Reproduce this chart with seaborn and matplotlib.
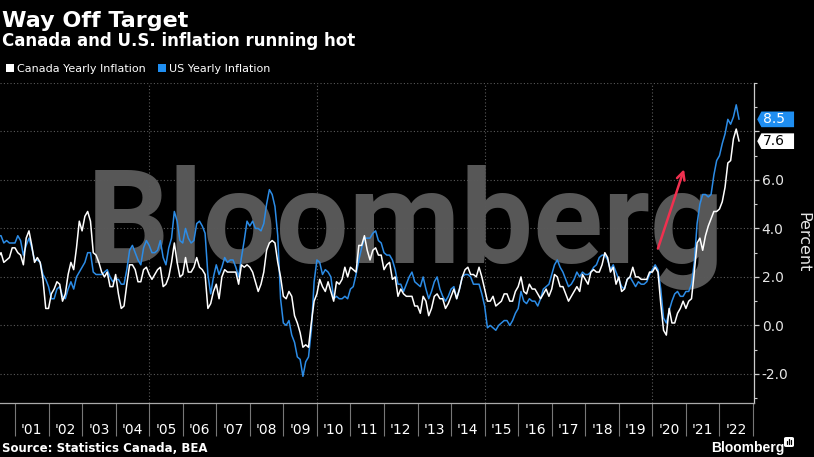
import numpy as np
import pandas as pd
import matplotlib.pyplot as plt
import seaborn as sns
from matplotlib.path import Path
from matplotlib.patches import Patch, FancyBboxPatch

# monthly yoy CPI, Jan 2000 .. Jul 2022
canada_yoy = [
    2.2, 2.7, 3.0, 2.2, 2.4, 2.8, 3.0, 2.6, 2.7, 2.8, 3.2, 3.2,
    3.0, 2.9, 2.5, 3.6, 3.9, 3.3, 2.6, 2.8, 2.6, 1.9, 0.7, 0.7,
    1.3, 1.5, 1.8, 1.7, 1.0, 1.3, 2.1, 2.6, 2.3, 3.2, 4.3, 3.9,
    4.5, 4.7, 4.3, 3.0, 2.9, 2.6, 2.2, 2.0, 2.2, 1.6, 1.6, 2.1,
    1.3, 0.7, 0.8, 1.7, 2.5, 2.5, 2.3, 1.8, 1.8, 2.3, 2.4, 2.1,
    1.9, 2.1, 2.3, 2.4, 1.6, 1.7, 2.0, 2.6, 3.4, 2.6, 2.0, 2.1,
    2.8, 2.2, 2.2, 2.4, 2.8, 2.4, 2.3, 2.1, 0.7, 0.9, 1.4, 1.7,
    1.1, 2.0, 2.3, 2.2, 2.2, 2.2, 2.2, 1.7, 2.5, 2.4, 2.5, 2.4,
    2.2, 1.8, 1.4, 1.7, 2.2, 3.1, 3.4, 3.5, 3.4, 2.6, 2.0, 1.2,
    1.1, 1.4, 1.2, 0.4, 0.1, -0.3, -0.9, -0.8, -0.9, 0.1, 1.0, 1.3,
    1.9, 1.6, 1.4, 1.8, 1.4, 1.0, 1.8, 1.7, 1.9, 2.4, 2.0, 2.4,
    2.3, 2.2, 3.3, 3.3, 3.7, 3.1, 2.7, 3.1, 3.2, 2.9, 2.9, 2.3,
    2.5, 2.6, 1.9, 2.0, 1.2, 1.5, 1.3, 1.2, 1.2, 1.2, 0.8, 0.8,
    0.5, 1.2, 1.0, 0.4, 0.7, 1.2, 1.3, 1.1, 1.1, 0.7, 0.9, 1.2,
    1.5, 1.1, 1.5, 2.0, 2.3, 2.4, 2.1, 2.1, 2.0, 2.4, 2.0, 1.5,
    1.0, 1.0, 1.2, 0.8, 0.9, 1.0, 1.3, 1.3, 1.0, 1.0, 1.4, 1.6,
    2.0, 1.4, 1.3, 1.7, 1.5, 1.5, 1.3, 1.1, 1.3, 1.5, 1.2, 1.5,
    2.1, 2.0, 1.6, 1.6, 1.3, 1.0, 1.2, 1.4, 1.6, 1.4, 2.1, 1.9,
    1.7, 2.2, 2.3, 2.2, 2.2, 2.5, 3.0, 2.8, 2.2, 2.4, 1.7, 2.0,
    1.4, 1.5, 1.9, 2.0, 2.4, 2.0, 2.0, 1.9, 1.9, 1.9, 2.2, 2.2,
    2.4, 2.2, 0.9, -0.2, -0.4, 0.7, 0.1, 0.1, 0.5, 0.7, 1.0, 0.7,
    1.0, 1.1, 2.2, 3.4, 3.6, 3.1, 3.7, 4.1, 4.4, 4.7, 4.7, 4.8,
    5.1, 5.7, 6.7, 6.8, 7.7, 8.1, 7.6,
]
us_yoy = [
    2.7, 3.2, 3.8, 3.1, 3.2, 3.7, 3.7, 3.4, 3.5, 3.4, 3.4, 3.4,
    3.7, 3.5, 2.9, 3.3, 3.6, 3.2, 2.7, 2.7, 2.6, 2.1, 1.9, 1.6,
    1.1, 1.1, 1.5, 1.6, 1.2, 1.1, 1.5, 1.8, 1.5, 2.0, 2.2, 2.4,
    2.6, 3.0, 3.0, 2.2, 2.1, 2.1, 2.1, 2.2, 2.3, 2.0, 1.8, 1.9,
    1.9, 1.7, 1.7, 2.3, 3.1, 3.3, 3.0, 2.7, 2.5, 3.2, 3.5, 3.3,
    3.0, 3.0, 3.1, 3.5, 2.8, 2.5, 3.2, 3.6, 4.7, 4.3, 3.5, 3.4,
    4.0, 3.6, 3.4, 3.5, 4.2, 4.3, 4.1, 3.8, 2.1, 1.3, 2.0, 2.5,
    2.1, 2.4, 2.8, 2.6, 2.7, 2.7, 2.4, 2.0, 2.8, 3.5, 4.3, 4.1,
    4.3, 4.0, 4.0, 3.9, 4.2, 5.0, 5.6, 5.4, 4.9, 3.7, 1.1, 0.1,
    0.0, 0.2, -0.4, -0.7, -1.3, -1.4, -2.1, -1.5, -1.3, -0.2, 1.8, 2.7,
    2.6, 2.1, 2.3, 2.2, 2.0, 1.1, 1.2, 1.1, 1.1, 1.2, 1.1, 1.5,
    1.6, 2.1, 2.7, 3.2, 3.6, 3.6, 3.6, 3.8, 3.9, 3.5, 3.4, 3.0,
    2.9, 2.9, 2.7, 2.3, 1.7, 1.7, 1.4, 1.7, 2.0, 2.2, 1.8, 1.7,
    1.6, 2.0, 1.5, 1.1, 1.4, 1.8, 2.0, 1.5, 1.2, 1.0, 1.2, 1.5,
    1.6, 1.1, 1.5, 2.0, 2.1, 2.1, 2.0, 1.7, 1.7, 1.7, 1.3, 0.8,
    -0.1, 0.0, -0.1, -0.2, 0.0, 0.1, 0.2, 0.2, 0.0, 0.2, 0.5, 0.7,
    1.4, 1.0, 0.9, 1.1, 1.0, 1.0, 0.8, 1.1, 1.5, 1.6, 1.7, 2.1,
    2.5, 2.7, 2.4, 2.2, 1.9, 1.6, 1.7, 1.9, 2.2, 2.0, 2.2, 2.1,
    2.1, 2.2, 2.4, 2.5, 2.8, 2.9, 2.9, 2.7, 2.3, 2.5, 2.2, 1.9,
    1.6, 1.5, 1.9, 2.0, 1.8, 1.6, 1.8, 1.7, 1.7, 1.8, 2.1, 2.3,
    2.5, 2.3, 1.5, 0.3, 0.1, 0.6, 1.0, 1.3, 1.4, 1.2, 1.2, 1.4,
    1.4, 1.7, 2.6, 4.2, 5.0, 5.4, 5.4, 5.3, 5.4, 6.2, 6.8, 7.0,
    7.5, 7.9, 8.5, 8.3, 8.6, 9.1, 8.5,
]
series_names = ['Canada Yearly Inflation', 'US Yearly Inflation']
year_labels = ["'%02d" % (y % 100) for y in range(2001, 2023)]
y_ticks = [-2, 0, 2, 4, 6, 8]
last_values = {'US Yearly Inflation': 8.5, 'Canada Yearly Inflation': 7.6}
arrow_start = (2020.14, 3.06)
arrow_end = (2020.97, 6.55)

BLUE = '#2c8ce6'
BOX_BLUE = '#1f8ef1'
RED = '#f0304f'
GRID = '#5a5a5a'

# month-end positions on a decimal-year axis
dates = 2000 + (np.arange(len(us_yoy)) + 1) / 12.0
df = pd.DataFrame({
    'date': np.concatenate([dates, dates]),
    'value': us_yoy + canada_yoy,
    'series': [series_names[1]] * len(us_yoy) + [series_names[0]] * len(canada_yoy),
})

sns.set_style('dark', {'axes.facecolor': 'black', 'figure.facecolor': 'black'})
plt.rcParams['font.family'] = ['DejaVu Sans']
plt.rcParams['axes.unicode_minus'] = False

fig = plt.figure(figsize=(8.14, 4.57), dpi=100)
ax = fig.add_axes([0, 0.1182, 0.9263, 0.7002])
ax.set_facecolor('black')

# watermark
ax.text(0.538, 0.4375, 'Bloomberg', transform=ax.transAxes, ha='center', va='baseline',
        fontsize=93, fontweight='bold', family='Roboto', color='#575757', zorder=0.3)

sns.lineplot(data=df, x='date', y='value', hue='series',
             hue_order=[series_names[1], series_names[0]],
             palette={series_names[0]: 'white', series_names[1]: BLUE},
             linewidth=1.1, legend=False, ax=ax, zorder=3)

ax.set_xlim(2000.553, 2023.03)
ax.set_ylim(-3.2, 10)

for yv in y_ticks + [10]:
    ax.axhline(yv, color=GRID, linestyle=(0, (1, 2)), linewidth=0.8, zorder=0.6)
for xv in [2005, 2010, 2015, 2020]:
    ax.axvline(xv, color=GRID, linestyle=(0, (1, 2)), linewidth=0.8, zorder=0.6)
ax.grid(False)

# x axis: separators at year boundaries, labels in the middle
ax.set_xticks(range(2001, 2024))
ax.set_xticklabels([])
ax.set_xticks([y + 0.5 for y in range(2001, 2023)], minor=True)
ax.set_xticklabels(year_labels, minor=True)
ax.tick_params(axis='x', which='major', bottom=True, length=24, width=0.8, color='#777777', direction='out')
ax.tick_params(axis='x', which='minor', bottom=True, length=0, pad=14.5, labelsize=10, labelcolor='white')

# y axis on the right; the 8.0 label sits under the value tags
ax.yaxis.tick_right()
ax.set_yticks(y_ticks)
ax.set_yticklabels(['%.1f' % v if v != 8 else '' for v in y_ticks])
ax.set_yticks(np.arange(-3, 11, 1), minor=True)
ax.tick_params(axis='y', which='major', right=True, left=False, length=3.5, width=0.9,
               color='#cccccc', direction='out', pad=2, labelsize=10, labelcolor='#e6e6e6')
ax.tick_params(axis='y', which='minor', right=True, left=False, length=2, width=0.8,
               color='#cccccc', direction='out')
ax.set_xlabel('')
ax.set_ylabel('')

for side in ['left', 'top']:
    ax.spines[side].set_visible(False)
ax.spines['right'].set_color('#cccccc')
ax.spines['right'].set_linewidth(0.9)
ax.spines['bottom'].set_color('#aaaaaa')
ax.spines['bottom'].set_linewidth(0.9)

fig.text(803 / 814, 1 - 242.5 / 457, 'Percent', rotation=270, ha='center', va='center',
         fontsize=11.5, color='#e6e6e6')


# last value tags
def tag_box(x0, y0, width, height, mutation_size):
    left = x0 - 0.12 * mutation_size
    right = x0 + width + 0.65 * mutation_size
    bottom = y0 - 0.06 * mutation_size
    top = y0 + height + 0.06 * mutation_size
    tip = left - 0.3 * mutation_size
    return Path([(left, bottom), (right, bottom), (right, top), (left, top),
                 (tip, (bottom + top) / 2), (left, bottom)], closed=True)


for name, fc, tc in [(series_names[1], BOX_BLUE, 'white'), (series_names[0], 'white', 'black')]:
    v = last_values[name]
    ax.annotate('%.1f' % v, xy=(1, v), xycoords=('axes fraction', 'data'),
                xytext=(6.5, 0), textcoords='offset points', ha='left', va='center',
                fontsize=10, color=tc, annotation_clip=False, zorder=10,
                bbox=dict(boxstyle=tag_box, fc=fc, ec='none'))

ax.annotate('', xy=arrow_end, xytext=arrow_start,
            arrowprops=dict(arrowstyle='->', color=RED, lw=1.8, mutation_scale=14), zorder=5)

# titles, legend, footer
fig.text(0.003, 1 - 27 / 457, 'Way Off Target', va='baseline', ha='left',
         fontsize=16, fontweight='bold', color='white')
fig.text(0.003, 1 - 46 / 457, 'Canada and U.S. inflation running hot', va='baseline', ha='left',
         fontsize=12, fontweight='bold', color='white')

handles = [Patch(facecolor='white', edgecolor='none'), Patch(facecolor=BOX_BLUE, edgecolor='none')]
fig.legend(handles, series_names, loc='center left', bbox_to_anchor=(6 / 814, 1 - 69 / 457),
           ncol=2, frameon=False, fontsize=8, labelcolor='white', handlelength=0.75,
           handleheight=0.75, handletextpad=0.25, columnspacing=1.1, borderpad=0, borderaxespad=0)

fig.text(0.003, 1 - 452 / 457, 'Source: Statistics Canada, BEA', va='baseline', ha='left',
         fontsize=8.5, fontweight='bold', color='white')
fig.text(711 / 814, 1 - 452 / 457, 'Bloomberg', va='baseline', ha='left',
         fontsize=10, fontweight='bold', family='Liberation Sans', color='white')
fig.patches.append(FancyBboxPatch((784 / 814, 1 - 447 / 457), 10 / 814, 10 / 457,
                                  boxstyle='round,pad=0,rounding_size=0.003', fc='white', ec='none',
                                  transform=fig.transFigure, figure=fig))
for i, h in enumerate([3, 5, 4]):
    fig.lines.append(plt.Line2D([(787 + i * 2) / 814] * 2, [1 - 444 / 457, 1 - (444 - h) / 457],
                                color='black', lw=0.9, transform=fig.transFigure, figure=fig))

fig.savefig('out.png', dpi=100, facecolor='black')
